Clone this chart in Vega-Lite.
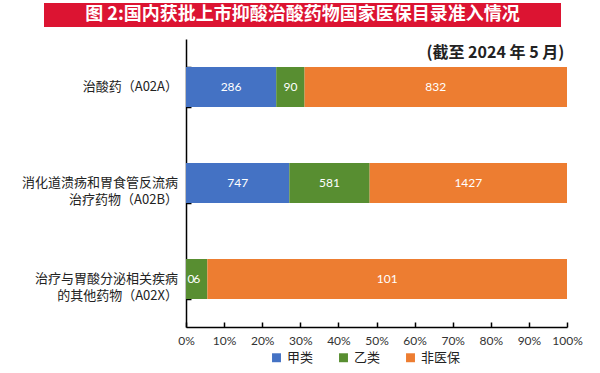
{
  "$schema": "https://vega.github.io/schema/vega-lite/v6.json",
  "padding": {"left": 18, "top": 3, "right": 5, "bottom": 2},
  "background": "white",
  "spacing": 12,
  "config": {"font": "Noto Sans CJK SC", "view": {"stroke": null}},
  "datasets": {
    "d": [
      {"cat": "治酸药（A02A）", "type": "甲类", "value": 286},
      {"cat": "治酸药（A02A）", "type": "乙类", "value": 90},
      {"cat": "治酸药（A02A）", "type": "非医保", "value": 832},
      {"cat": "消化道溃疡和胃食管反流病\n治疗药物（A02B）", "type": "甲类", "value": 747},
      {"cat": "消化道溃疡和胃食管反流病\n治疗药物（A02B）", "type": "乙类", "value": 581},
      {"cat": "消化道溃疡和胃食管反流病\n治疗药物（A02B）", "type": "非医保", "value": 1427},
      {"cat": "治疗与胃酸分泌相关疾病\n的其他药物（A02X）", "type": "甲类", "value": 0},
      {"cat": "治疗与胃酸分泌相关疾病\n的其他药物（A02X）", "type": "乙类", "value": 6},
      {"cat": "治疗与胃酸分泌相关疾病\n的其他药物（A02X）", "type": "非医保", "value": 101}
    ]
  },
  "vconcat": [
    {
      "spacing": 0,
      "hconcat": [
        {
          "width": 26,
          "height": 24,
          "data": {"values": []},
          "mark": {"type": "point", "opacity": 0},
          "encoding": {}
        },
        {
          "width": 517,
          "height": 24,
          "view": {"fill": "#DC1432", "stroke": null},
          "data": {"values": [{"t": "图 2:国内获批上市抑酸治酸药物国家医保目录准入情况"}]},
          "mark": {"type": "text", "color": "white", "fontSize": 18, "fontWeight": "bold", "font": "Noto Sans CJK SC", "baseline": "middle"},
          "encoding": {"text": {"field": "t"}}
        }
      ]
    },
    {
      "spacing": -1,
      "hconcat": [
        {
          "width": 160,
          "height": 288,
          "data": {"name": "d"},
          "transform": [
            {"filter": "datum.type == '甲类'"},
            {"calculate": "indexof(datum.cat, '\\n') < 0 ? datum.cat : split(datum.cat, '\\n')[0] + '\\n' + pad(split(datum.cat, '\\n')[1], length(split(datum.cat, '\\n')[1]) + (indexof(datum.cat, 'A02B') >= 0 ? 16 : 7), '\u00a0')", "as": "lab"}
          ],
          "mark": {"type": "text", "align": "right", "baseline": "middle", "lineBreak": "\n", "fontSize": 13, "lineHeight": 17, "color": "#222", "font": "Noto Sans CJK SC"},
          "encoding": {
            "y": {"field": "cat", "type": "nominal", "sort": null, "scale": {"paddingInner": 0.583, "paddingOuter": 0.2917}, "axis": null},
            "x": {"datum": 1, "type": "quantitative", "scale": {"domain": [0, 1]}, "axis": null},
            "text": {"field": "lab"}
          }
        },
        {
          "width": 381,
          "height": 288,
          "title": {"text": "(截至 2024 年 5 月)", "anchor": "end", "offset": -22, "dx": -18, "fontSize": 16, "fontWeight": "bold", "color": "#222", "font": "Noto Sans CJK SC"},
          "data": {"name": "d"},
          "transform": [
            {"calculate": "indexof(['甲类','乙类','非医保'], datum.type)", "as": "ord"},
            {"stack": "value", "groupby": ["cat"], "sort": [{"field": "ord", "order": "ascending"}], "offset": "normalize", "as": ["x0", "x1"]},
            {"calculate": "(datum.x0 + datum.x1) / 2", "as": "xm"}
          ],
          "resolve": {"scale": {"x": "independent"}, "axis": {"x": "independent"}},
          "encoding": {
            "y": {
              "field": "cat", "type": "nominal", "sort": null,
              "scale": {"paddingInner": 0.583, "paddingOuter": 0.2917},
              "axis": {
                "title": null, "labels": false, "domainColor": "#000", "domainWidth": 1.5,
                "tickColor": "#000", "tickSize": -5, "tickWidth": 1.5, "tickBand": "extent"
              }
            }
          },
          "layer": [
            {
              "mark": {"type": "bar"},
              "encoding": {
                "x": {
                  "field": "x0", "type": "quantitative", "scale": {"domain": [0, 1], "nice": false},
                  "axis": {
                    "title": null, "format": "%", "values": [0, 0.1, 0.2, 0.3, 0.4, 0.5, 0.6, 0.7, 0.8, 0.9, 1],
                    "grid": false, "domain": true, "domainColor": "#000", "domainWidth": 1.5,
                    "tickColor": "#000", "tickSize": -5, "tickWidth": 1.5, "labelOverlap": false, "labelFlush": false,
                    "labelFontSize": 12, "labelColor": "#333", "labelPadding": 13, "labelFont": "Lato"
                  }
                },
                "x2": {"field": "x1"},
                "color": {
                  "field": "type", "type": "nominal",
                  "scale": {"domain": ["甲类", "乙类", "非医保"], "range": ["#4472C4", "#588E31", "#ED7D31"]},
                  "legend": {
                    "orient": "none", "legendX": 252, "legendY": 348, "title": null, "direction": "horizontal", "symbolType": "square",
                    "symbolSize": 80, "labelFontSize": 13, "labelColor": "#222", "columnPadding": 23, "padding": 0
                  }
                }
              }
            },
            {
              "transform": [{"filter": "datum.value > 0"}],
              "mark": {"type": "text", "color": "white", "fontSize": 12, "font": "Lato"},
              "encoding": {
                "x": {"field": "xm", "type": "quantitative", "scale": {"domain": [0, 1], "nice": false}, "axis": null},
                "text": {"field": "value", "type": "quantitative"}
              }
            },
            {
              "transform": [{"filter": "datum.value == 0"}],
              "mark": {"type": "text", "color": "white", "fontSize": 12, "font": "Lato", "dx": 5},
              "encoding": {
                "x": {"field": "xm", "type": "quantitative", "scale": {"domain": [0, 1], "nice": false}, "axis": null},
                "text": {"field": "value", "type": "quantitative"}
              }
            }
          ]
        }
      ]
    }
  ]
}
